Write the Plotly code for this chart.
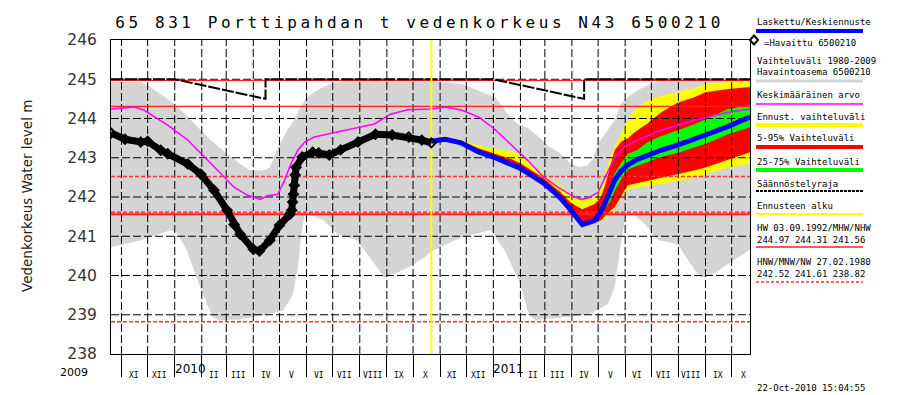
import plotly.graph_objects as go
import pandas as pd

# ---------------- data ----------------
obs_dates = ["2009-10-20","2009-11-05","2009-11-23","2009-12-01","2009-12-16","2009-12-24","2010-01-16",
             "2010-01-31","2010-02-15","2010-03-02","2010-03-10","2010-03-17","2010-04-01","2010-04-08",
             "2010-04-20","2010-05-01","2010-05-13","2010-05-15","2010-05-16","2010-05-17","2010-05-18",
             "2010-05-19","2010-05-20","2010-05-27","2010-06-08","2010-06-15","2010-06-27","2010-07-10",
             "2010-07-30","2010-08-19","2010-09-07","2010-09-26","2010-10-11","2010-10-22"]
obs_vals = [243.63,243.47,243.40,243.42,243.19,243.10,242.84,242.58,242.17,241.66,241.30,241.05,240.67,240.62,
            240.90,241.28,241.56,241.66,241.87,242.07,242.30,242.56,242.76,243.02,243.14,243.12,243.07,243.20,
            243.40,243.60,243.58,243.53,243.45,243.38]

fc_dates = ["2010-10-22","2010-11-07","2010-11-25","2010-12-15","2011-01-03","2011-01-22","2011-02-01",
            "2011-02-16","2011-02-27","2011-03-12","2011-03-19","2011-03-31","2011-04-13","2011-04-27",
            "2011-05-04","2011-05-09","2011-05-15","2011-05-20","2011-05-27","2011-06-04","2011-06-15",
            "2011-06-27","2011-07-12","2011-07-31","2011-08-20","2011-09-01","2011-09-27","2011-10-22"]
fc_mid = [243.42,243.47,243.38,243.15,243.00,242.84,242.73,242.52,242.36,242.12,241.97,241.66,241.30,241.40,
          241.61,241.85,242.20,242.43,242.65,242.82,242.96,243.07,243.19,243.32,243.47,243.58,243.80,244.04]
yel_hi = [243.45,243.50,243.45,243.31,243.22,243.17,243.06,242.80,242.60,242.38,242.28,242.07,241.94,241.99,
          242.30,242.60,243.02,243.30,243.60,243.96,244.29,244.45,244.58,244.67,244.78,244.88,244.93,244.93]
red_hi = [243.44,243.50,243.43,243.24,243.10,242.96,242.86,242.64,242.49,242.25,242.12,241.85,241.69,241.82,
          241.99,242.30,242.80,243.19,243.40,243.50,243.70,243.88,244.15,244.40,244.55,244.67,244.75,244.80]
grn_hi = [243.42,243.47,243.38,243.15,243.00,242.84,242.73,242.52,242.36,242.12,241.97,241.66,241.30,241.40,
          241.65,241.95,242.30,242.60,242.85,243.10,243.20,243.40,243.55,243.70,243.86,243.98,244.24,244.34]
grn_lo = [243.42,243.47,243.38,243.15,243.00,242.84,242.73,242.52,242.36,242.12,241.97,241.66,241.30,241.40,
          241.55,241.70,241.90,242.15,242.43,242.70,242.80,242.90,243.02,243.12,243.27,243.35,243.60,243.78]
red_lo = [243.38,243.43,243.34,243.11,242.96,242.80,242.69,242.48,242.32,242.08,241.93,241.62,241.26,241.36,
          241.40,241.50,241.65,241.74,242.00,242.30,242.36,242.42,242.50,242.58,242.68,242.75,242.94,243.14]
yel_lo = [243.37,243.42,243.33,243.10,242.95,242.79,242.68,242.47,242.31,242.07,241.92,241.61,241.25,241.35,
          241.38,241.45,241.60,241.70,241.95,242.20,242.25,242.28,242.33,242.40,242.50,242.58,242.76,242.84]

gray_hi_dates = ["2009-10-20","2009-11-23","2009-12-04","2009-12-24","2010-01-04","2010-01-16","2010-01-31",
                 "2010-02-11","2010-03-02","2010-03-17","2010-03-28","2010-04-14","2010-04-20","2010-04-29",
                 "2010-05-10","2010-05-18","2010-05-25","2010-06-02","2010-06-13","2010-06-28","2010-07-14",
                 "2010-10-22","2010-11-25","2010-12-15","2011-01-03","2011-01-18","2011-01-29","2011-02-10",
                 "2011-02-21","2011-03-05","2011-03-19","2011-03-31","2011-04-10","2011-04-19","2011-04-25",
                 "2011-05-01","2011-05-09","2011-05-20","2011-05-27","2011-06-04","2011-06-15","2011-06-30",
                 "2011-07-12","2011-10-22"]
gray_hi = [244.93,244.93,244.80,244.50,244.29,244.04,243.70,243.45,243.10,242.84,242.68,242.68,242.75,243.27,
           243.70,243.96,244.29,244.55,244.72,244.88,244.95,244.95,244.88,244.72,244.55,244.10,243.86,243.75,
           243.55,243.30,243.10,242.84,242.76,242.80,242.99,243.35,243.60,243.96,244.37,244.55,244.72,244.88,
           244.98,244.98]
gray_lo_dates = ["2009-10-20","2009-11-23","2009-12-27","2010-01-03","2010-01-15","2010-01-26","2010-02-07",
                 "2010-02-14","2010-02-21","2010-03-16","2010-04-15","2010-05-05","2010-05-16","2010-05-22",
                 "2010-05-26","2010-05-30","2010-06-03","2010-06-21","2010-07-06","2010-07-29","2010-08-18",
                 "2010-08-29","2010-09-05","2010-09-25","2010-10-14","2010-10-22","2010-11-25","2010-12-29",
                 "2011-01-14","2011-02-01","2011-02-09","2011-02-17","2011-04-19","2011-05-12","2011-05-20",
                 "2011-05-27","2011-06-02","2011-06-08","2011-06-24","2011-07-09","2011-07-31","2011-08-20",
                 "2011-08-27","2011-09-07","2011-09-27","2011-10-22"]
gray_lo = [240.72,240.90,241.15,241.10,240.64,239.95,239.27,238.93,238.86,238.88,239.00,239.10,239.50,240.20,
           241.05,241.56,241.56,241.40,241.05,240.90,240.29,239.95,240.00,240.20,240.46,240.62,240.97,241.15,
           240.64,239.78,239.11,238.86,239.00,239.27,239.70,240.80,241.56,241.61,241.30,240.90,240.80,240.13,
           239.95,240.00,240.29,240.66]

mean_dates = ["2009-10-20","2009-11-16","2009-11-27","2009-12-24","2010-01-16","2010-01-31","2010-02-19",
              "2010-03-10","2010-03-25","2010-04-09","2010-04-17","2010-04-29","2010-05-07","2010-05-14",
              "2010-05-22","2010-05-30","2010-06-10","2010-06-28","2010-08-18","2010-09-05","2010-09-25",
              "2010-10-22","2010-11-07","2010-11-26","2010-12-15","2011-01-03","2011-01-21","2011-02-09",
              "2011-02-27","2011-03-16","2011-03-31","2011-04-11","2011-04-19","2011-05-01","2011-05-09",
              "2011-05-20","2011-05-31","2011-06-15","2011-07-12","2011-08-20","2011-09-27","2011-10-22"]
mean_vals = [244.24,244.29,244.21,243.83,243.45,243.10,242.68,242.25,242.05,241.94,242.03,242.07,242.43,242.84,
             243.19,243.40,243.53,243.62,243.86,244.11,244.22,244.24,244.29,244.21,244.04,243.72,243.35,242.94,
             242.52,242.25,242.05,241.94,241.97,242.12,242.50,243.02,243.27,243.45,243.70,243.96,244.16,244.24]

reg_dates = ["2009-10-20","2010-01-01","2010-04-15","2010-04-15","2011-01-01","2011-04-15","2011-04-15","2011-10-22"]
reg_vals = [245.0,245.0,244.5,245.0,245.0,244.5,245.0,245.0]

levels_solid = {"HW": 244.97, "MHW": 244.31, "NHW": 241.56}
levels_dash = {"HNW": 242.52, "MNW": 241.61, "NW": 238.82}
forecast_start = "2010-10-22"
x_start, x_end = "2009-10-20", "2011-10-22"
y_min, y_max = 238, 246
roman = ["I","II","III","IV","V","VI","VII","VIII","IX","X","XI","XII"]
title_text = "65 831 Porttipahdan t vedenkorkeus N43 6500210"
ytitle = "Vedenkorkeus Water level m"
stamp = "22-Oct-2010 15:04:55"
legend_rows = [
    ("Laskettu/Keskiennuste", 14), ("=Havaittu 6500210", 35), ("Vaihteluväli 1980-2009", 53),
    ("Havaintoasema 6500210", 64), ("Keskimääräinen arvo", 87), ("Ennust. vaihteluväli", 109),
    ("5-95% Vaihteluväli", 130), ("25-75% Vaihteluväli", 154), ("Säännöstelyraja", 176),
    ("Ennusteen alku", 198), ("HW 03.09.1992/MHW/NHW", 220), ("244.97 244.31 241.56", 232),
    ("HNW/MNW/NW 27.02.1980", 254), ("242.52 241.61 238.82", 266)]

# ---------------- layout helpers ----------------
W, H = 905, 395
L, R, T, B = 103, 742, 32, 346
def px(xp): return (xp - L) / (R - L)
def py(yp): return (B - yp) / (B - T)

MONO = "DejaVu Sans Mono"
SANS = "DejaVu Sans"

fig = go.Figure()

def band(xd, hi, lo, color, xd_lo=None):
    xl = xd if xd_lo is None else xd_lo
    fig.add_trace(go.Scatter(x=list(xd) + list(xl)[::-1], y=list(hi) + list(lo)[::-1],
                             fill="toself", fillcolor=color, line=dict(width=0),
                             mode="lines", hoverinfo="skip", showlegend=False))

band(gray_hi_dates, gray_hi, gray_lo, "#d4d4d4", gray_lo_dates)
band(fc_dates, yel_hi, yel_lo, "#ffff00")
band(fc_dates, red_hi, red_lo, "#ff0000")
band(fc_dates, grn_hi, grn_lo, "#00ff00")

# grid (drawn above the bands like in the reference)
months = pd.date_range("2009-11-01", "2011-10-01", freq="MS")
gx, gy = [], []
for d in months:
    gx += [d, d, None]; gy += [y_min, y_max, None]
for v in range(y_min + 1, y_max):
    gx += [pd.Timestamp(x_start), pd.Timestamp(x_end), None]; gy += [v, v, None]
fig.add_trace(go.Scatter(x=gx, y=gy, mode="lines", line=dict(color="black", width=1, dash="8px,3px"),
                         hoverinfo="skip", showlegend=False))

# reference levels
for name, v in levels_solid.items():
    w = 2 if name == "NHW" else 1.3
    fig.add_trace(go.Scatter(x=[x_start, x_end], y=[v, v], mode="lines",
                             line=dict(color="#ff2020", width=w), hoverinfo="skip", showlegend=False))
for name, v in levels_dash.items():
    fig.add_trace(go.Scatter(x=[x_start, x_end], y=[v, v], mode="lines",
                             line=dict(color="#ff3030", width=1.5, dash="4px,2px"), hoverinfo="skip", showlegend=False))

# mean
fig.add_trace(go.Scatter(x=mean_dates, y=mean_vals, mode="lines", line=dict(color="#ff00ff", width=1.5),
                         hoverinfo="skip", showlegend=False))
# regulation limit
fig.add_trace(go.Scatter(x=reg_dates, y=reg_vals, mode="lines", line=dict(color="black", width=2, dash="12px,2px"),
                         hoverinfo="skip", showlegend=False))
# forecast start
fig.add_trace(go.Scatter(x=[forecast_start, forecast_start], y=[y_min, y_max], mode="lines",
                         line=dict(color="#ffff00", width=2), hoverinfo="skip", showlegend=False))
# forecast median
fig.add_trace(go.Scatter(x=fc_dates, y=fc_mid, mode="lines", line=dict(color="#0000ff", width=5),
                         hoverinfo="skip", showlegend=False))
# observations
fig.add_trace(go.Scatter(x=obs_dates, y=obs_vals, mode="lines+markers",
                         line=dict(color="black", width=7),
                         marker=dict(symbol="diamond-open", size=7, color="black", line=dict(width=2)),
                         hoverinfo="skip", showlegend=False))

# ---------------- axes ----------------
fig.update_xaxes(type="date", range=[x_start, x_end], showgrid=False, zeroline=False,
                 showline=True, linecolor="black", linewidth=1, mirror=True,
                 tick0="2009-11-01", dtick="M1", ticks="outside", ticklen=22, tickcolor="black",
                 tickwidth=1, showticklabels=False)
fig.update_yaxes(range=[y_min, y_max], dtick=1, showgrid=False, zeroline=False,
                 showline=True, linecolor="black", linewidth=1, mirror=True, ticks="",
                 ticklabelstandoff=10, tickfont=dict(family=SANS, size=15.5, color="#333"))

shapes, ann = [], []
# month labels
for d in months:
    if d.month == 1:
        continue
    ann.append(dict(x=d + pd.Timedelta(days=14), y=py(367), xref="x", yref="paper", text=roman[d.month - 1],
                    showarrow=False, font=dict(family=MONO, size=8, color="black"),
                    xanchor="center", yanchor="middle"))
# year labels
ann.append(dict(x=px(66), y=py(364), xref="paper", yref="paper", text="2009", showarrow=False,
                font=dict(family=SANS, size=11, color="black"), xanchor="center", yanchor="middle"))
for yr in ["2010", "2011"]:
    ann.append(dict(x=yr + "-01-01", y=py(361), xref="x", yref="paper", text=yr, showarrow=False,
                    font=dict(family=SANS, size=12, color="black"), xanchor="left", yanchor="middle", xshift=-2))

# title (centred so the added letter spacing grows symmetrically), y title, stamp
ann.append(dict(x=px(411), y=py(15), xref="paper", yref="paper", text=title_text, showarrow=False,
                font=dict(family=MONO, size=16, color="black"), xanchor="center", yanchor="middle"))
ann.append(dict(x=px(19), y=py(188), xref="paper", yref="paper", text=ytitle, showarrow=False, textangle=-90,
                font=dict(family=SANS, size=13.5, color="#222"), xanchor="center", yanchor="middle"))
ann.append(dict(x=px(747), y=py(380), xref="paper", yref="paper", text=stamp, showarrow=False,
                font=dict(family=MONO, size=9, color="black"), xanchor="left", yanchor="middle"))

# legend texts
for text, yy in legend_rows:
    xx = 754 if text.startswith("=") else 747
    ann.append(dict(x=px(xx), y=py(yy), xref="paper", yref="paper", text=text, showarrow=False,
                    font=dict(family=MONO, size=9, color="black"), xanchor="left", yanchor="middle"))

# legend line samples
def lline(yy, color, width, dash="solid"):
    shapes.append(dict(type="line", xref="paper", yref="paper", x0=px(748), x1=px(855), y0=py(yy), y1=py(yy),
                       line=dict(color=color, width=width, dash=dash)))
lline(23, "#0000ff", 4)
lline(73, "#d4d4d4", 3)
lline(96, "#ff00ff", 1.5)
lline(117, "#ffff00", 4)
lline(139, "#ff0000", 4)
lline(162, "#00ff00", 4)
lline(183, "black", 2, "3px,1px")
lline(206, "#ffff00", 2)
lline(239, "#ff2020", 1.3)
lline(274, "#ff3030", 1.3, "3px,2px")
# legend diamond
cx, cy, hw, hh = 746, 32, 4, 4.5
shapes.append(dict(type="path", xref="paper", yref="paper",
                   path=f"M {px(cx)},{py(cy-hh)} L {px(cx+hw)},{py(cy)} L {px(cx)},{py(cy+hh)} L {px(cx-hw)},{py(cy)} Z",
                   line=dict(color="black", width=2), fillcolor="white"))

fig.update_layout(width=W, height=H, autosize=False,
                  margin=dict(l=L, r=W - R, t=T, b=H - B, pad=0),
                  paper_bgcolor="white", plot_bgcolor="white",
                  shapes=shapes, annotations=ann, showlegend=False)

post = ("document.querySelectorAll('.annotation-text').forEach(function(t){"
        "if(t.textContent.indexOf('Porttipahdan')>=0){t.style.letterSpacing='3.6px';}});")
fig.write_html("out.html", post_script=post, config={"displayModeBar": False})
